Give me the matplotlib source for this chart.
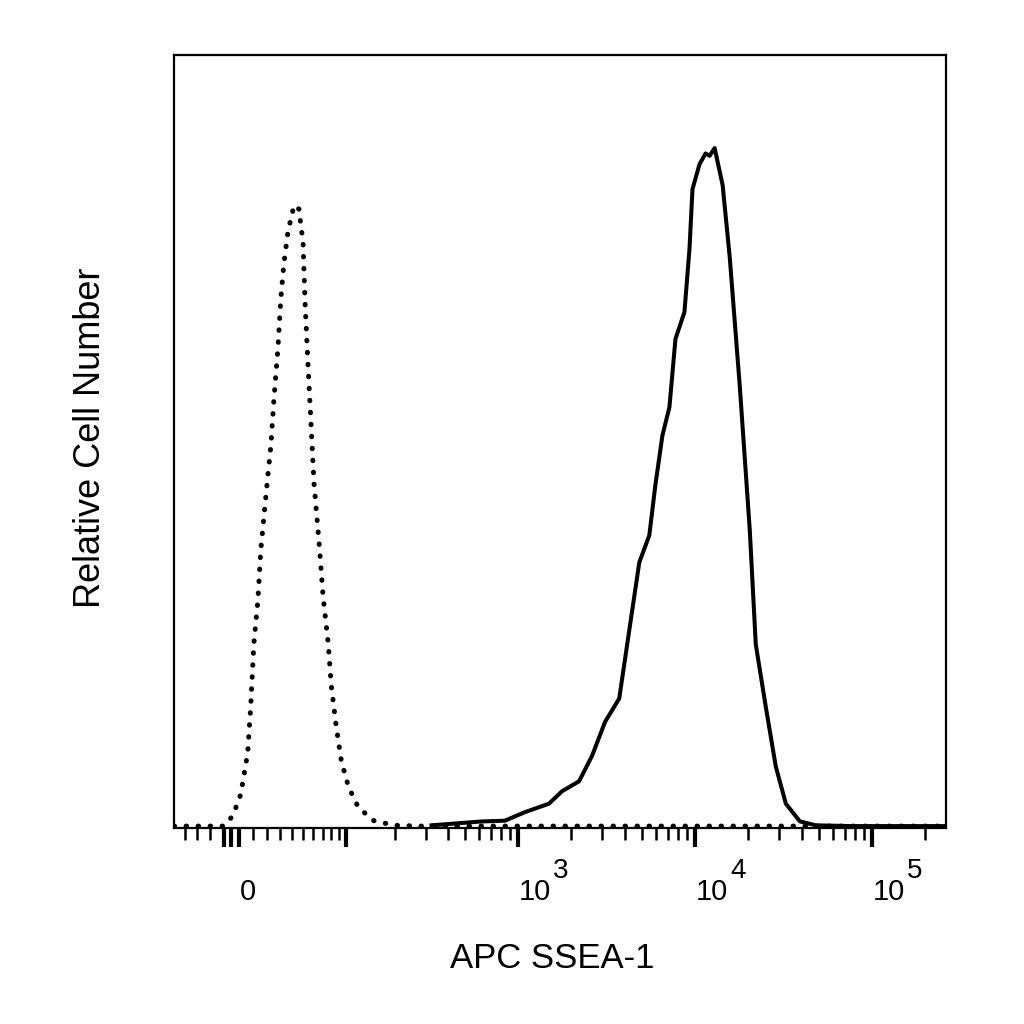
import numpy as np
import matplotlib
matplotlib.use('Agg')
import matplotlib.pyplot as plt

plt.rcParams['font.family'] = ['Liberation Sans', 'DejaVu Sans']

# isotype control (dotted) - APC fluorescence vs relative count
ctrl_x = [-50, -27, -10.5, -4.2, 1.4, 6.2, 8.3, 10.5, 13.3, 15.4, 17.6, 20.6, 22.8,
          25.1, 28.2, 30.5, 32.9, 36.3, 41.5, 45.9, 49.7, 51.6, 54.5, 57.5, 60.6,
          66.0, 70.6, 76.6, 80.3, 86.8, 93.7, 104, 120, 149, 197, 272, 810, 262144]
ctrl_y = [0.3, 0.3, 0.3, 1.6, 4.4, 9.8, 15.8, 23.9, 29.4, 36.0, 40.2, 45.7, 49.5,
          55.5, 62.1, 68.6, 73.0, 77.2, 80.6, 80.1, 75.7, 68.0, 59.9, 52.3, 44.6,
          37.0, 29.9, 23.9, 18.5, 13.1, 8.7, 5.4, 2.7, 1.0, 0.4, 0.3, 0.3, 0.3]

# SSEA-1 stained (solid)
ssea_x = [323, 623, 843, 1094, 1497, 1772, 2215, 2623, 3108, 3733, 4252, 4846, 5519,
          5972, 6544, 7172, 7755, 8718, 9311, 9679, 10605, 11467, 12095, 12909, 14326,
          15707, 17888, 20386, 22041, 25115, 28600, 32590, 39140, 48230, 78200, 262144]
ssea_y = [0.4, 0.9, 1.0, 2.1, 3.2, 4.8, 6.1, 9.4, 13.8, 16.8, 25.6, 34.4, 37.9,
          44.4, 50.8, 54.5, 63.3, 66.8, 75.0, 82.7, 85.9, 87.3, 87.0, 88.0, 83.2,
          73.9, 57.3, 38.6, 23.8, 15.7, 8.0, 3.2, 0.9, 0.4, 0.3, 0.3]

major_ticks = [-10, -5, 0, 100, 1000, 10000, 100000]
minor_ticks = ([-40, -30, -20] + list(range(10, 100, 10)) + list(range(200, 1000, 100))
               + list(range(2000, 10000, 1000)) + list(range(20000, 100000, 10000)) + [200000])
labels = [(0, '0', ''), (1000, '10', '3'), (10000, '10', '4'), (100000, '10', '5')]

# biexponential-like display
C = 53.0
def fwd(x):
    return np.arcsinh(np.asarray(x, dtype=float) / C)
def inv(y):
    return C * np.sinh(y)

fig = plt.figure(figsize=(10.24, 10.24), dpi=100)
ax = fig.add_axes([0.170, 0.191, 0.754, 0.755])
ax.set_xscale('function', functions=(fwd, inv))

ax.plot(ctrl_x, ctrl_y, color='black', lw=3.6, linestyle=(0, (0.1, 2.3)),
        dash_capstyle='round')
ax.plot(ssea_x, ssea_y, color='black', lw=2.9, solid_joinstyle='round')

ax.set_xlim(-50, 262144)
ax.set_ylim(0, 100)
ax.set_yticks([])
ax.set_xticks(major_ticks)
ax.set_xticks(minor_ticks, minor=True)
ax.set_xticklabels([])
ax.tick_params(axis='x', which='major', length=14, width=3.0, direction='out')
ax.tick_params(axis='x', which='minor', length=8.5, width=1.8, direction='out')
for s in ax.spines.values():
    s.set_linewidth(1.6)

for val, base, sup in labels:
    ax.annotate(base, xy=(val, 0), xycoords=('data', 'axes fraction'),
                xytext=(1, -72), textcoords='offset pixels',
                ha='left', va='baseline', fontsize=21)
    if sup:
        ax.annotate(sup, xy=(val, 0), xycoords=('data', 'axes fraction'),
                    xytext=(35, -50), textcoords='offset pixels',
                    ha='left', va='baseline', fontsize=20)

fig.text(552 / 1024, 1 - 958 / 1024, 'APC SSEA-1', ha='center', va='center', fontsize=25)
fig.text(91 / 1024, 1 - 438 / 1024, 'Relative Cell Number', ha='center', va='center',
         rotation=90, fontsize=26)

fig.savefig('out.png', dpi=100)
